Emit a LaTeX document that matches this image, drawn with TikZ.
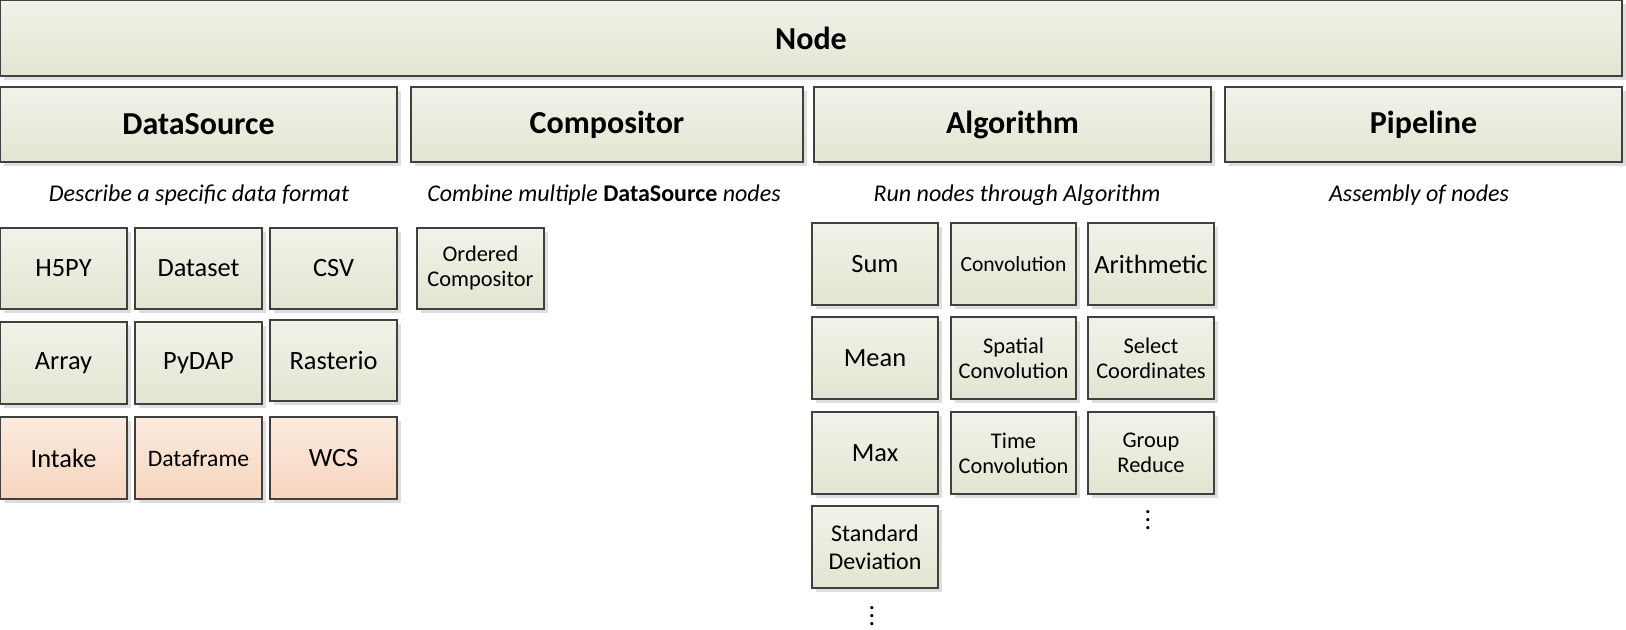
\documentclass[tikz,border=0pt]{standalone}
\usepackage{fontspec}
\setmainfont{Carlito}
\usepackage{tikz}
\usetikzlibrary{positioning,shadows}

\definecolor{boxtop}{RGB}{240,243,232}
\definecolor{boxbot}{RGB}{224,230,210}
\definecolor{warmtop}{RGB}{251,234,222}
\definecolor{warmbot}{RGB}{246,213,191}
\definecolor{boxline}{RGB}{64,64,64}
\definecolor{shadowgray}{RGB}{222,222,222}

\newcommand{\fsTitle}{\fontsize{16}{18}\selectfont\bfseries}
\newcommand{\fsCap}{\fontsize{12}{14}\selectfont\itshape}
\newcommand{\fsBig}{\fontsize{13.2}{15.5}\selectfont}
\newcommand{\fsMid}{\fontsize{11.2}{12.5}\selectfont}
\newcommand{\fsSmall}{\fontsize{10.8}{12.5}\selectfont}

\begin{document}
\begin{tikzpicture}[x=0.5pt, y=-0.5pt]
		\tikzstyle{box}=[draw=boxline, line width=0.65pt, top color=boxtop, bottom color=boxbot,
			inner sep=0pt, align=center,
			general shadow={fill=shadowgray, shadow xshift=2pt, shadow yshift=-2pt}]
		\tikzstyle{warm}=[box, top color=warmtop, bottom color=warmbot]
		\tikzstyle{wh}=[minimum width=#1*0.5pt]
		\tikzstyle{ht}=[minimum height=#1*0.5pt]
		\tikzstyle{caption}=[font=\fsCap, inner sep=0pt]
		\tikzstyle{more}=[font=\fsBig, inner sep=0pt, anchor=base]
		
		\useasboundingbox (0,0) rectangle (1626,630);
		
		% top level
		\node[box, wh=1622, ht=76, font=\fsTitle] (node) at (811,38) {Node};
		
		\node[box, wh=397, ht=75, font=\fsTitle] (datasource) at (198.5,124.5)  {DataSource};
		\node[box, wh=392, ht=75, font=\fsTitle] (compositor) at (607,124.5)    {Compositor};
		\node[box, wh=397, ht=75, font=\fsTitle] (algorithm)  at (1012.5,124.5) {Algorithm};
		\node[box, wh=397, ht=75, font=\fsTitle] (pipeline)   at (1423.5,124.5) {Pipeline};
		
		\node[caption] (dscap)   at (199,195)  {Describe a specific data format};
		\node[caption] (compcap) at (604,195)  {Combine multiple \textup{\bfseries DataSource} nodes};
		\node[caption] (algcap)  at (1017,195) {Run nodes through Algorithm};
		\node[caption] (pipecap) at (1419,195) {Assembly of nodes};
		
		% data sources
		\node[box, wh=127, ht=81, font=\fsBig]  (h5py)      at (63.5,268.5)  {H5PY};
		\node[box, wh=127, ht=81, font=\fsBig]  (dataset)   at (198.5,268.5) {Dataset};
		\node[box, wh=127, ht=81, font=\fsBig]  (csv)       at (333.5,268.5) {CSV};
		\node[box, wh=127, ht=82, font=\fsBig]  (array)     at (63.5,363)    {Array};
		\node[box, wh=127, ht=82, font=\fsBig]  (pydap)     at (198.5,363)   {PyDAP};
		\node[box, wh=127, ht=81, font=\fsBig]  (rasterio)  at (333.5,360.5) {Rasterio};
		\node[warm, wh=127, ht=82, font=\fsBig] (intake)    at (63.5,458)    {Intake};
		\node[warm, wh=127, ht=82, font={\fontsize{11.8}{14}\selectfont}] (dataframe) at (198.5,458) {Dataframe};
		\node[warm, wh=127, ht=82, font=\fsBig] (wcs)       at (333.5,458)   {WCS};
		
		% compositors
		\node[box, wh=127, ht=81, font={\fontsize{11.2}{12.5}\selectfont}] (ordered) at (480.5,268.5) {Ordered\\Compositor};
		
		% algorithms
		\node[box, wh=126, ht=82, font=\fsBig]   (sum)    at (875,264)    {Sum};
		\node[box, wh=126, ht=82, font=\fsBig]   (mean)   at (875,358)    {Mean};
		\node[box, wh=126, ht=82, font=\fsBig]   (max)    at (875,453)    {Max};
		\node[box, wh=126, ht=82, font={\fontsize{12}{14}\selectfont}] (std) at (875,547) {Standard\\Deviation};
		\node[box, wh=125, ht=82, font=\fsSmall] (conv)   at (1013.5,264) {Convolution};
		\node[box, wh=125, ht=82, font=\fsMid]   (sconv)  at (1013.5,358) {Spatial\\Convolution};
		\node[box, wh=125, ht=82, font=\fsMid]   (tconv)  at (1013.5,453) {Time\\Convolution};
		\node[box, wh=126, ht=82, font=\fsBig]   (arith)  at (1151,264)   {Arithmetic};
		\node[box, wh=126, ht=82, font=\fsMid]   (select) at (1151,358)   {Select\\Coordinates};
		\node[box, wh=126, ht=82, font=\fsMid]   (group)  at (1151,453)   {Group\\Reduce};
		
		\node[more] (stdmore)   at (872,625)  {$\vdots$};
		\node[more] (groupmore) at (1148,529) {$\vdots$};
\end{tikzpicture}
\end{document}
